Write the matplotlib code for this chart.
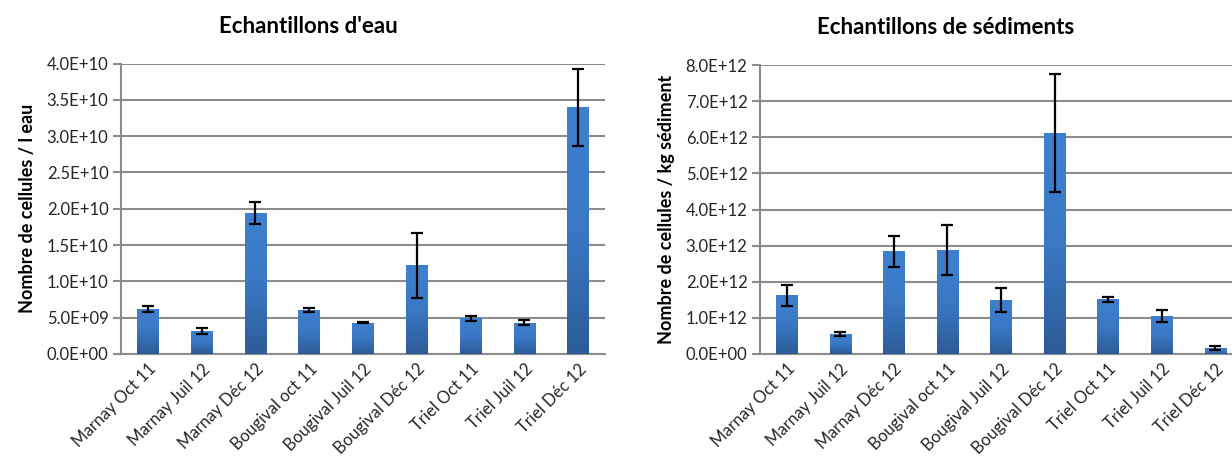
import matplotlib.pyplot as plt
import numpy as np
from matplotlib.ticker import FuncFormatter, MultipleLocator
from matplotlib.colors import LinearSegmentedColormap

plt.rcParams['font.family'] = ['Lato', 'DejaVu Sans']

# data
labels = ['Marnay Oct 11', 'Marnay Juil 12', 'Marnay Déc 12', 'Bougival oct 11',
          'Bougival Juil 12', 'Bougival Déc 12', 'Triel Oct 11', 'Triel Juil 12', 'Triel Déc 12']
eau = [6.2e9, 3.2e9, 19.4e9, 6.05e9, 4.3e9, 12.2e9, 4.9e9, 4.3e9, 34.0e9]
eau_err = [0.45e9, 0.4e9, 1.55e9, 0.33e9, 0.1e9, 4.45e9, 0.3e9, 0.35e9, 5.3e9]
sed = [1.62e12, 0.56e12, 2.85e12, 2.88e12, 1.49e12, 6.11e12, 1.52e12, 1.05e12, 0.16e12]
sed_err = [0.29e12, 0.05e12, 0.43e12, 0.68e12, 0.33e12, 1.63e12, 0.07e12, 0.17e12, 0.05e12]

grad = LinearSegmentedColormap.from_list('g', ['#2d5c98', '#3a78c4', '#3e80d0'])


def sci(v, pos):
    return '%.1E' % v


def draw(ax, vals, errs, ymax, step, title, ylabel, tx):
    x = np.arange(len(vals))
    bars = ax.bar(x, vals, width=0.4, color='#3a75bf', zorder=3)
    g = np.linspace(0, 1, 100).reshape(-1, 1)
    for b in bars:
        im = ax.imshow(g, cmap=grad, aspect='auto', origin='lower', zorder=3,
                       extent=[b.get_x(), b.get_x() + b.get_width(), 0, b.get_height()])
        im.set_clip_path(b)
    ax.errorbar(x, vals, yerr=errs, fmt='none', ecolor='black', elinewidth=1.6,
                capsize=4.5, capthick=1.6, zorder=4)
    ax.set_xlim(-0.5, len(vals) - 0.5)
    ax.set_ylim(0, ymax)
    ax.yaxis.set_major_locator(MultipleLocator(step))
    ax.yaxis.set_major_formatter(FuncFormatter(sci))
    ax.grid(axis='y', color='#8c8c8c', linewidth=1.5, zorder=0)
    ax.set_axisbelow(True)
    for s in ['top', 'right']:
        ax.spines[s].set_visible(False)
    for s in ['left', 'bottom']:
        ax.spines[s].set_color('#8c8c8c')
        ax.spines[s].set_linewidth(1.5)
    ax.tick_params(axis='y', length=6, width=1.5, color='#8c8c8c', labelsize=12, pad=3,
                   labelcolor='#262626')
    ax.tick_params(axis='x', length=0, labelsize=12, pad=5, labelcolor='#262626')
    ax.set_xticks(x)
    ax.set_xticklabels(labels, rotation=45, ha='right', rotation_mode='anchor')
    ax.set_ylabel(ylabel, fontsize=13, fontweight='bold', labelpad=8)
    ax.set_title(title, fontsize=16, fontweight='bold', pad=22, x=tx)


fig = plt.figure(figsize=(12.32, 4.59), dpi=100)
W, H = 1232, 459
ax1 = fig.add_axes([121 / W, 1 - 354 / H, 484 / W, 290.5 / H])
ax2 = fig.add_axes([760 / W, 1 - 354 / H, 482 / W, 289 / H])
draw(ax1, eau, eau_err, 4.0e10, 0.5e10, "Echantillons d'eau", 'Nombre de cellules / l eau', 0.388)
draw(ax2, sed, sed_err, 8.0e12, 1.0e12, 'Echantillons de sédiments',
     'Nombre de cellules / kg sédiment', 0.386)

fig.savefig('out.png', dpi=100)
